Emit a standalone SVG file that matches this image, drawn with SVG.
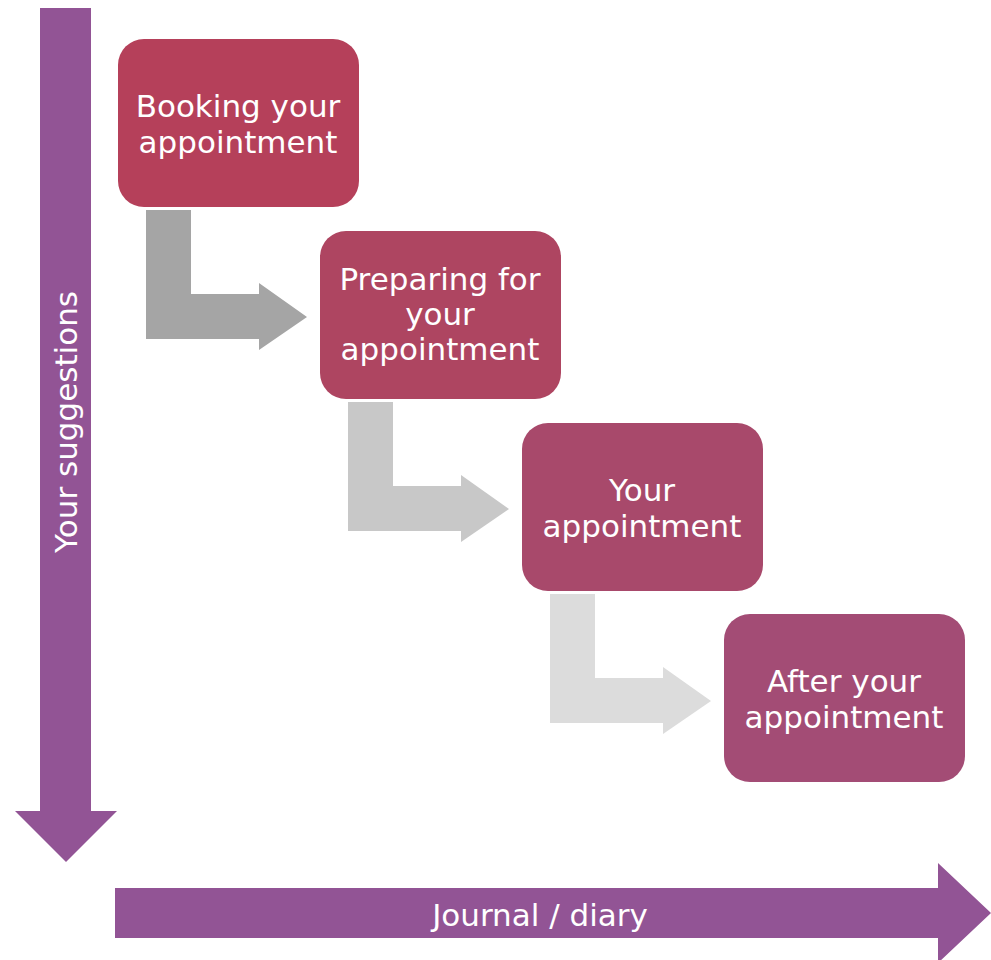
<svg xmlns="http://www.w3.org/2000/svg" width="991" height="960" viewBox="0 0 991 960">
<style>
text{font-family:"DejaVu Sans","Liberation Sans",sans-serif;fill:#ffffff;text-anchor:middle;font-size:31px}
.axis{fill:#925495}
</style>
<rect width="991" height="960" fill="#ffffff"/>
<g id="axis-vertical">
<polygon class="axis" points="40,8 91,8 91,811 117,811 66,862 15,811 40,811"/>
<text transform="translate(77,422) rotate(-90)" font-size="30">Your suggestions</text>
</g>
<g id="axis-horizontal">
<polygon class="axis" points="115,888 938,888 938,863 991,913 938,963 938,938 115,938"/>
<text x="540" y="926">Journal / diary</text>
</g>
<g id="connectors">
<polygon fill="#a5a5a5" points="146,210 191,210 191,294 259,294 259,283 307,317 259,350 259,339 146,339"/>
<polygon fill="#c8c8c8" points="348,402 393,402 393,486 461,486 461,475 509,509 461,542 461,531 348,531"/>
<polygon fill="#dcdcdc" points="550,594 595,594 595,678 663,678 663,667 711,701 663,734 663,723 550,723"/>
</g>
<g id="node-booking">
<rect x="118" y="39" width="241" height="168" rx="26" fill="#b5405a"/>
<text x="238" y="117">Booking your</text>
<text x="238" y="153">appointment</text>
</g>
<g id="node-preparing">
<rect x="320" y="231" width="241" height="168" rx="26" fill="#ae4561"/>
<text x="440" y="290">Preparing for</text>
<text x="440" y="325">your</text>
<text x="440" y="360">appointment</text>
</g>
<g id="node-appointment">
<rect x="522" y="423" width="241" height="168" rx="26" fill="#a8496b"/>
<text x="642" y="501">Your</text>
<text x="642" y="537">appointment</text>
</g>
<g id="node-after">
<rect x="724" y="614" width="241" height="168" rx="26" fill="#a34c75"/>
<text x="844" y="692">After your</text>
<text x="844" y="728">appointment</text>
</g>
</svg>
